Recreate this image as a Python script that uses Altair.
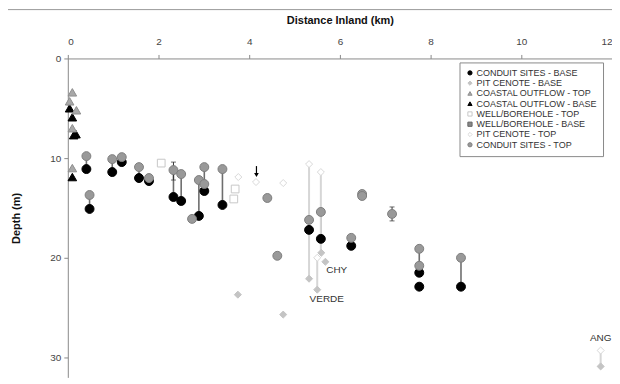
import altair as alt
import pandas as pd

series_names = [
    "CONDUIT SITES - BASE", "PIT CENOTE - BASE", "COASTAL OUTFLOW - TOP",
    "COASTAL OUTFLOW - BASE", "WELL/BOREHOLE - TOP", "WELL/BOREHOLE - BASE",
    "PIT CENOTE - TOP", "CONDUIT SITES - TOP",
]

# Conduit sites (paired top / base)
conduit_km = [0.41, 0.48, 0.98, 1.19, 1.57, 1.79, 2.33, 2.50, 2.89, 3.01, 3.41, 5.32, 5.58, 6.25, 7.75, 8.67]
conduit_top = [9.8, 13.7, 10.1, 9.9, 10.9, 12.0, 11.2, 11.6, 12.2, 10.9, 11.1, 16.2, 15.4, 18.0, 19.1, 20.0]
conduit_base = [11.1, 15.1, 11.4, 10.4, 12.0, 12.3, 13.9, 14.3, 15.8, 13.3, 14.7, 17.2, 18.1, 18.8, 21.5, 22.9]
# Extra conduit points without partner
conduit_top_extra_km = [3.01, 2.74, 4.40, 4.62, 6.49, 6.49, 7.15, 7.75]
conduit_top_extra = [12.6, 16.1, 14.0, 19.8, 13.6, 13.8, 15.6, 20.8]
conduit_base_extra_km = [7.75]
conduit_base_extra = [22.9]

# Pit cenotes
pit_top_km = [3.76, 4.15, 4.75, 5.32, 5.58, 5.50, 11.75]
pit_top = [11.9, 12.4, 12.5, 10.6, 11.4, 20.0, 29.3]
pit_base_km = [3.75, 4.75, 5.32, 5.50, 5.59, 5.68, 11.75]
pit_base = [23.7, 25.7, 22.1, 23.2, 19.5, 20.4, 30.9]
pit_line_km = [5.32, 5.58, 5.50, 11.75]
pit_line_top = [10.6, 11.4, 20.0, 29.3]
pit_line_base = [22.1, 19.5, 23.2, 30.9]

# Wells / boreholes
well_top_km = [2.06, 3.69, 3.66]
well_top = [10.5, 13.1, 14.1]

# Coastal outflows
coast_top_km = [0.10, 0.04, 0.19, 0.10, 0.10]
coast_top = [3.4, 4.3, 5.2, 7.0, 11.0]
coast_base_km = [0.04, 0.10, 0.13, 0.18, 0.10]
coast_base = [5.0, 5.9, 7.7, 7.6, 11.9]

# Error bars and arrow
err_km = [2.33, 7.15]
err_lo = [10.4, 14.9]
err_hi = [12.2, 16.3]
arrow_km = [4.16]
arrow_from = [10.8]
arrow_to = [11.7]

# Labels
label_text = ["CHY", "VERDE", "ANG"]
label_km = [5.93, 5.71, 11.75]
label_depth = [21.2, 24.1, 28.0]

shape_range = ["circle", "diamond", "triangle-up", "triangle-up", "square", "square", "diamond", "circle"]
fill_range = ["#000000", "#c4c4c4", "#a8a8a8", "#000000", "#ffffff", "#888888", "#ffffff", "#999999"]
stroke_range = ["#000000", "#c4c4c4", "#8f8f8f", "#000000", "#c8c8c8", "#666666", "#d8d8d8", "#7d7d7d"]
size_by_series = {
    "CONDUIT SITES - BASE": 80, "PIT CENOTE - BASE": 50, "COASTAL OUTFLOW - TOP": 75,
    "COASTAL OUTFLOW - BASE": 75, "WELL/BOREHOLE - TOP": 60, "WELL/BOREHOLE - BASE": 60,
    "PIT CENOTE - TOP": 50, "CONDUIT SITES - TOP": 80,
}

rows = []
def add(series, kms, ds):
    for k, d in zip(kms, ds):
        rows.append({"series": series, "km": k, "depth": d, "sz": size_by_series[series]})

add("CONDUIT SITES - BASE", conduit_km, conduit_base)
add("CONDUIT SITES - BASE", conduit_base_extra_km, conduit_base_extra)
add("PIT CENOTE - BASE", pit_base_km, pit_base)
add("WELL/BOREHOLE - TOP", well_top_km, well_top)
add("COASTAL OUTFLOW - BASE", coast_base_km, coast_base)
add("COASTAL OUTFLOW - TOP", coast_top_km, coast_top)
add("PIT CENOTE - TOP", pit_top_km, pit_top)
add("CONDUIT SITES - TOP", conduit_km, conduit_top)
add("CONDUIT SITES - TOP", conduit_top_extra_km, conduit_top_extra)
points = pd.DataFrame(rows)

conduit_lines = pd.DataFrame({"km": conduit_km, "top": conduit_top, "base": conduit_base})
pit_lines = pd.DataFrame({"km": pit_line_km, "top": pit_line_top, "base": pit_line_base})
errs = pd.DataFrame({"km": err_km, "lo": err_lo, "hi": err_hi})
caps = pd.DataFrame({"km": err_km * 2, "depth": err_lo + err_hi})
arrow = pd.DataFrame({"km": arrow_km, "a": arrow_from, "b": arrow_to})
labels = pd.DataFrame({"km": label_km, "depth": label_depth, "text": label_text})

FONT = "Liberation Sans"

xs = alt.Scale(domain=[0, 12], nice=False)
ys = alt.Scale(domain=[0, 32], reverse=True, nice=False)
x_enc = alt.X("km:Q", scale=xs,
              axis=alt.Axis(orient="top", values=[0, 2, 4, 6, 8, 10, 12],
                            title="Distance Inland (km)", grid=False))

frame = alt.Chart(alt.Data(values=[{"a": 1}])).mark_rect(
    fillOpacity=0, stroke="#9a9a9a", strokeWidth=1, clip=False
).encode(x=alt.value(-63), x2=alt.value(551), y=alt.value(-49), y2=alt.value(324))

c_lines = alt.Chart(conduit_lines).mark_rule(color="#6e6e6e", strokeWidth=1.6).encode(
    x=x_enc,
    y=alt.Y("top:Q", scale=ys, axis=alt.Axis(values=[0, 10, 20, 30], title="Depth (m)", grid=False)),
    y2="base:Q")

p_lines = alt.Chart(pit_lines).mark_rule(color="#d6d6d6", strokeWidth=2).encode(
    x="km:Q", y="top:Q", y2="base:Q")

e_rule = alt.Chart(errs).mark_rule(color="#333333", strokeWidth=1).encode(
    x="km:Q", y="lo:Q", y2="hi:Q")
e_caps = alt.Chart(caps).mark_point(shape="M -1 0 L 1 0", size=25, color="#333333",
                                     strokeWidth=1, filled=False).encode(
    x="km:Q", y="depth:Q")

leg = alt.Legend(orient="none", legendX=393, legendY=4, title=None,
                 strokeColor="#8a8a8a", fillColor="#ffffff", padding=6,
                 labelFont=FONT, labelFontSize=9, labelColor="#333333",
                 symbolSize=18, symbolStrokeWidth=1, rowPadding=0.3, labelOffset=2)

pts = alt.Chart(points).mark_point(opacity=1, strokeWidth=1).encode(
    x="km:Q", y="depth:Q",
    shape=alt.Shape("series:N", scale=alt.Scale(domain=series_names, range=shape_range), legend=leg),
    fill=alt.Fill("series:N", scale=alt.Scale(domain=series_names, range=fill_range), legend=leg),
    stroke=alt.Stroke("series:N", scale=alt.Scale(domain=series_names, range=stroke_range), legend=leg),
    size=alt.Size("sz:Q", scale=None),
)

a_rule = alt.Chart(arrow).mark_rule(color="#000000", strokeWidth=1.2).encode(
    x="km:Q", y="a:Q", y2="b:Q")
a_head = alt.Chart(arrow).mark_point(shape="triangle-down", size=22, filled=True,
                                      color="#000000", opacity=1).encode(
    x="km:Q", y="b:Q")

txt = alt.Chart(labels).mark_text(font=FONT, fontSize=10, color="#333333").encode(
    x="km:Q", y="depth:Q", text="text:N")

chart = alt.layer(frame, c_lines, p_lines, e_rule, e_caps, pts, a_rule, a_head, txt).properties(
    width=546, height=320,
    autosize=alt.AutoSizeParams(type="none"),
    padding={"left": 60, "top": 50, "right": 0, "bottom": 0},
).configure_view(stroke=None).configure_axis(
    labelFont=FONT, titleFont=FONT, labelFontSize=10, titleFontSize=11,
    titleFontWeight="bold", labelColor="#444444", titleColor="#111111",
    domainColor="#8a8a8a", tickColor="#8a8a8a", tickSize=4,
).configure_axisTop(titlePadding=11, labelPadding=8).configure_axisLeft(
    titlePadding=28, labelPadding=3
)

chart.save("out.html", embed_options={"renderer": "svg", "actions": False})
